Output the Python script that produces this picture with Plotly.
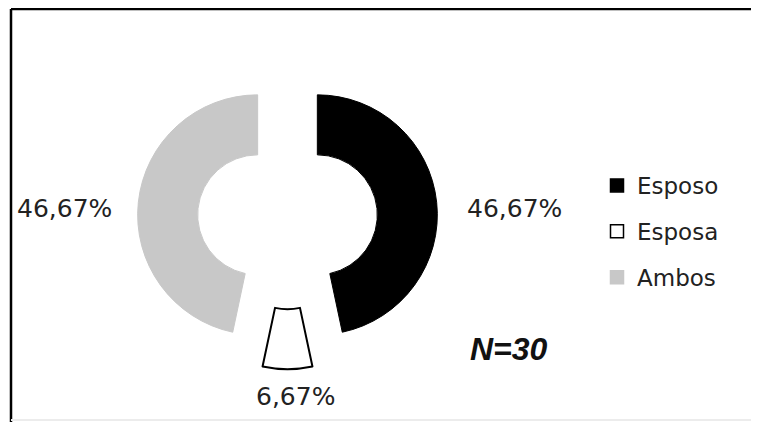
import plotly.graph_objects as go

# respuestas (N=30)
labels = ["Esposo", "Esposa", "Ambos"]
counts = [14, 2, 14]
colors = ["#000000", "#ffffff", "#c8c8c8"]
edge_colors = ["#000000", "#000000", "#c8c8c8"]
n_total = "N=30"

# layout bits, in figure pixels (the page body adds 8px)
W, H = 743, 414
pulls = [0.25, 0.26, 0.25]
edge_widths = [1, 2, 1]
label_pos = [(506, 201), (287, 388), (56, 201)]

FONT = "DejaVu Sans"


def px(x, y):
    return x / W, 1 - y / H


fig = go.Figure()

fig.add_trace(
    go.Pie(
        labels=labels,
        values=counts,
        hole=0.5,
        sort=False,
        direction="clockwise",
        rotation=0,
        pull=pulls,
        marker={
            "colors": colors,
            "line": {"color": edge_colors, "width": edge_widths},
        },
        textinfo="none",
        domain={"x": [128.3 / W, 430.7 / W], "y": [0.1276, 0.858]},
        showlegend=False,
        hoverinfo="label+percent",
    )
)

# legend entries (one group each so the gap can be set)
for name, color, edge in zip(labels, colors, edge_colors):
    fig.add_trace(
        go.Scatter(
            x=[None],
            y=[None],
            mode="markers",
            name=name,
            legendgroup=name,
            marker={
                "symbol": "square",
                "size": 13,
                "color": color,
                "line": {"color": edge, "width": 1.5},
            },
        )
    )

total = sum(counts)
annotations = []
for c, (lx, ly) in zip(counts, label_pos):
    text = f"{100 * c / total:.2f}%".replace(".", ",")
    x, y = px(lx, ly)
    annotations.append({
        "text": text, "x": x, "y": y, "xref": "paper", "yref": "paper",
        "xanchor": "center", "yanchor": "middle",
        "showarrow": False,
        "font": {"family": FONT, "size": 25, "color": "#222222"},
    })

x, y = px(501, 341)
annotations.append({
    "text": f"<b><i>{n_total}</i></b>",
    "x": x, "y": y, "xref": "paper", "yref": "paper",
    "xanchor": "center", "yanchor": "middle",
    "showarrow": False,
    "font": {"family": "Liberation Sans", "size": 32, "color": "#111111"},
})

fig.update_layout(
    width=W,
    height=H,
    margin={"l": 0, "r": 0, "t": 0, "b": 0, "autoexpand": False},
    paper_bgcolor="white",
    plot_bgcolor="white",
    xaxis={"visible": False},
    yaxis={"visible": False},
    legend={
        "x": 589 / W,
        "y": 1 - 156 / H,
        "xanchor": "left",
        "yanchor": "top",
        "font": {"family": FONT, "size": 23, "color": "#222222"},
        "tracegroupgap": 13,
        "itemwidth": 30,
        "bgcolor": "rgba(0,0,0,0)",
    },
    annotations=annotations,
    shapes=[
        {"type": "line", "xref": "paper", "yref": "paper",
         "x0": 3 / W, "x1": 1, "y0": 1 - 1 / H, "y1": 1 - 1 / H,
         "line": {"color": "black", "width": 2.5}},
        {"type": "line", "xref": "paper", "yref": "paper",
         "x0": 3 / W, "x1": 3 / W, "y0": 0, "y1": 1 - 1 / H,
         "line": {"color": "black", "width": 2.5}},
        {"type": "line", "xref": "paper", "yref": "paper",
         "x0": 3 / W, "x1": 1, "y0": 1 - 412 / H, "y1": 1 - 412 / H,
         "line": {"color": "#ececec", "width": 2}},
    ],
)

fig.write_html("out.html")
